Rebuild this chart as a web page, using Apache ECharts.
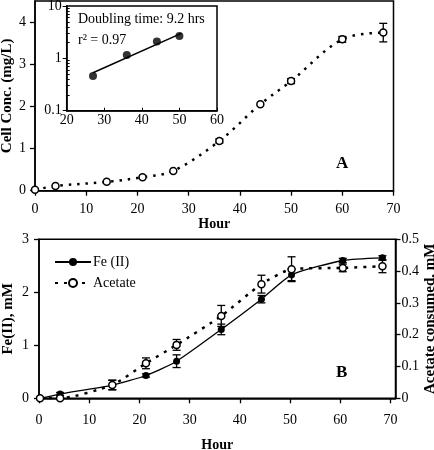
<!DOCTYPE html>
<html>
<head>
<meta charset="utf-8">
<script src="https://cdn.jsdelivr.net/npm/echarts@6/dist/echarts.min.js"></script>
<style>html,body{margin:0;padding:0;background:#fff}#c{width:434px;height:450px}</style>
</head>
<body>
<div id="c"></div>
<script>
// Panel A: cell concentration
var hoursA = [0, 4, 14, 21, 27, 36, 44, 50, 60, 68];
var cellConc = [0.02, 0.11, 0.21, 0.32, 0.47, 1.18, 2.05, 2.60, 3.59, 3.75];
var cellErr = [0, 0, 0, 0, 0, 0.05, 0, 0.06, 0.07, 0.22];
// Inset: log plot
var insetHours = [27, 36, 44, 50];
var insetConc = [0.46, 1.16, 2.1, 2.66];
var fitHours = [27, 50.5];
var fitConc = [0.53, 3.0];
// Panel B
var hoursB = [0.2, 4.2, 14.6, 21.3, 27.4, 36.3, 44.3, 50.3, 60.5, 68.4];
var fe2 = [0, 0.08, 0.25, 0.43, 0.70, 1.30, 1.87, 2.33, 2.60, 2.65];
var fe2Err = [0, 0.03, 0.09, 0.03, 0.12, 0.10, 0.07, 0.11, 0.04, 0.04];
var acetate = [0, 0, 0.042, 0.11, 0.168, 0.259, 0.359, 0.406, 0.41, 0.415];
var acetateErr = [0, 0, 0.015, 0.017, 0.017, 0.033, 0.028, 0.039, 0.012, 0.02];
// tick labels
var ticksA_x = [0, 10, 20, 30, 40, 50, 60, 70];
var ticksA_y = [0, 1, 2, 3, 4];
var ticksB_x = [0, 10, 20, 30, 40, 50, 60, 70];
var insetMinor = [0.2,0.3,0.4,0.5,0.6,0.7,0.8,0.9,2,3,4,5,6,7,8,9];

var FONT = 'Liberation Serif';
function zip(xs, ys) { return xs.map(function (x, i) { return [x, ys[i]]; }); }
function zipErr(xs, ys, es) {
  var out = [];
  xs.forEach(function (x, i) { if (es[i] > 0) out.push([x, ys[i], es[i]]); });
  return out;
}
function errRender(params, api) {
  var x = api.value(0), y = api.value(1), e = api.value(2);
  var hi = api.coord([x, y + e]), lo = api.coord([x, y - e]);
  var w = 4;
  var st = { stroke: '#000', lineWidth: 1.3 };
  return { type: 'group', children: [
    { type: 'line', shape: { x1: hi[0], y1: hi[1], x2: lo[0], y2: lo[1] }, style: st },
    { type: 'line', shape: { x1: hi[0] - w, y1: hi[1], x2: hi[0] + w, y2: hi[1] }, style: st },
    { type: 'line', shape: { x1: lo[0] - w, y1: lo[1], x2: lo[0] + w, y2: lo[1] }, style: st }
  ]};
}
var axisLine = { show: true, lineStyle: { color: '#000', width: 1.5 } };
var lbl = { color: '#000', fontFamily: FONT, fontSize: 14 };
var nameSt = { color: '#000', fontFamily: FONT, fontSize: 15, fontWeight: 'bold' };
var hourSt = { color: '#000', fontFamily: FONT, fontSize: 14, fontWeight: 'bold' };
var openSym = { color: '#fff', borderColor: '#000', borderWidth: 1.5 };

var chart = echarts.init(document.getElementById('c'), null, { renderer: 'canvas' });
chart.setOption({
  animation: false,
  backgroundColor: '#fff',
  grid: [
    { left: 35, top: 1, width: 358.5, height: 189.7, show: true, borderColor: '#000', borderWidth: 1.5, backgroundColor: 'transparent', containLabel: false, outerBoundsMode: 'none' },
    { left: 66.7, top: 6, width: 150.3, height: 104.7, show: true, borderColor: '#000', borderWidth: 1.5, backgroundColor: '#fff', containLabel: false, outerBoundsMode: 'none' },
    { left: 39, top: 239.3, width: 356.5, height: 159, show: true, borderColor: '#000', borderWidth: 1.5, backgroundColor: 'transparent', containLabel: false, outerBoundsMode: 'none' }
  ],
  xAxis: [
    { gridIndex: 0, type: 'value', min: 0, max: 70, interval: 10,
      axisLine: axisLine, splitLine: { show: false },
      axisTick: { show: true, length: 5, lineStyle: { color: '#000', width: 1.3 }, customValues: ticksA_x },
      axisLabel: Object.assign({ margin: 12, customValues: ticksA_x }, lbl),
      name: 'Hour', nameLocation: 'middle', nameGap: 24, nameTextStyle: hourSt },
    { gridIndex: 1, type: 'value', min: 20, max: 60, interval: 10,
      axisLine: axisLine, splitLine: { show: false },
      axisTick: { show: true, inside: true, length: 3, lineStyle: { color: '#000' } },
      axisLabel: Object.assign({ margin: 3 }, lbl) },
    { gridIndex: 2, type: 'value', min: 0, max: 71, interval: 10,
      axisLine: axisLine, splitLine: { show: false },
      axisTick: { show: true, length: 5, lineStyle: { color: '#000', width: 1.3 }, customValues: ticksB_x },
      axisLabel: Object.assign({ margin: 15, customValues: ticksB_x }, lbl),
      name: 'Hour', nameLocation: 'middle', nameGap: 40, nameTextStyle: hourSt }
  ],
  yAxis: [
    { gridIndex: 0, type: 'value', min: 0, max: 4.5, interval: 1,
      axisLine: axisLine, splitLine: { show: false },
      axisTick: { show: true, length: 5, lineStyle: { color: '#000', width: 1.3 }, customValues: ticksA_y },
      axisLabel: Object.assign({ margin: 9, customValues: ticksA_y }, lbl),
      name: 'Cell Conc. (mg/L)', nameLocation: 'middle', nameGap: 20, nameMoveOverlap: false, nameTextStyle: nameSt },
    { gridIndex: 1, type: 'log', logBase: 10, min: 0.1, max: 10,
      axisLine: axisLine, splitLine: { show: false },
      axisTick: { show: true, length: 4, lineStyle: { color: '#000' } },
      axisLabel: Object.assign({ margin: 5 }, lbl) },
    { gridIndex: 1, type: 'log', logBase: 10, min: 0.1, max: 10, position: 'left',
      axisLine: { show: false }, splitLine: { show: false },
      axisTick: { show: true, inside: true, length: 3, lineStyle: { color: '#000' }, customValues: insetMinor },
      axisLabel: { show: false } },
    { gridIndex: 2, type: 'value', min: 0, max: 3, interval: 1,
      axisLine: axisLine, splitLine: { show: false },
      axisTick: { show: true, length: 5, lineStyle: { color: '#000', width: 1.3 } },
      axisLabel: Object.assign({ margin: 10 }, lbl),
      name: 'Fe(II), mM', nameLocation: 'middle', nameGap: 23, nameMoveOverlap: false, nameTextStyle: nameSt },
    { gridIndex: 2, type: 'value', position: 'right', min: 0, max: 0.5, interval: 0.1,
      axisLine: axisLine, splitLine: { show: false },
      axisTick: { show: true, length: 5, lineStyle: { color: '#000', width: 1.3 } },
      axisLabel: Object.assign({ margin: 6, formatter: function (v) { return v === 0 ? '0' : v.toFixed(1); } }, lbl),
      name: 'Acetate consumed, mM', nameLocation: 'middle', nameRotate: 90, nameGap: 27, nameMoveOverlap: false, nameTextStyle: nameSt }
  ],
  legend: {
    data: ['Fe (II)', 'Acetate'], orient: 'vertical', left: 49, top: 250,
    itemWidth: 36, itemHeight: 10, itemGap: 7,
    textStyle: { color: '#000', fontFamily: FONT, fontSize: 14, padding: [0, 0, 0, -3] }
  },
  series: [
    { name: 'cellErr', type: 'custom', xAxisIndex: 0, yAxisIndex: 0, z: 1, renderItem: errRender,
      data: zipErr(hoursA, cellConc, cellErr) },
    { name: 'Cell', type: 'line', xAxisIndex: 0, yAxisIndex: 0, z: 3, smooth: 0.35,
      data: zip(hoursA, cellConc), symbol: 'circle', symbolSize: 7, itemStyle: openSym,
      lineStyle: { color: '#000', width: 2.5, type: [2.5, 6] } },
    { name: 'insetFit', type: 'line', xAxisIndex: 1, yAxisIndex: 1, showSymbol: false, symbol: 'none',
      data: zip(fitHours, fitConc), lineStyle: { color: '#000', width: 1.5 } },
    { name: 'insetPts', type: 'scatter', xAxisIndex: 1, yAxisIndex: 1, symbol: 'circle', symbolSize: 8,
      data: zip(insetHours, insetConc), itemStyle: { color: '#000' } },
    { name: 'feErr', type: 'custom', xAxisIndex: 2, yAxisIndex: 3, z: 1, renderItem: errRender,
      data: zipErr(hoursB, fe2, fe2Err) },
    { name: 'acErr', type: 'custom', xAxisIndex: 2, yAxisIndex: 4, z: 1, renderItem: errRender,
      data: zipErr(hoursB, acetate, acetateErr) },
    { name: 'Fe (II)', type: 'line', xAxisIndex: 2, yAxisIndex: 3, z: 3, smooth: 0.2,
      data: zip(hoursB, fe2), symbol: 'circle', symbolSize: 7, itemStyle: { color: '#000' },
      lineStyle: { color: '#000', width: 1.3 } },
    { name: 'Acetate', type: 'line', xAxisIndex: 2, yAxisIndex: 4, z: 4, smooth: 0.2,
      data: zip(hoursB, acetate), symbol: 'circle', symbolSize: 7, itemStyle: openSym,
      lineStyle: { color: '#000', width: 2.5, type: [3, 6] } }
  ],
  graphic: [
    { type: 'text', left: 78, top: 12, style: { text: 'Doubling time: 9.2 hrs', font: '14px "Liberation Serif"', fill: '#000' } },
    { type: 'text', left: 78, top: 33, style: { text: 'r\u00B2 = 0.97', font: '14px "Liberation Serif"', fill: '#000' } },
    { type: 'text', left: 336, top: 155, style: { text: 'A', font: 'bold 17px "Liberation Serif"', fill: '#000' } },
    { type: 'text', left: 336, top: 364, style: { text: 'B', font: 'bold 17px "Liberation Serif"', fill: '#000' } }
  ]
});
</script>
</body>
</html>
